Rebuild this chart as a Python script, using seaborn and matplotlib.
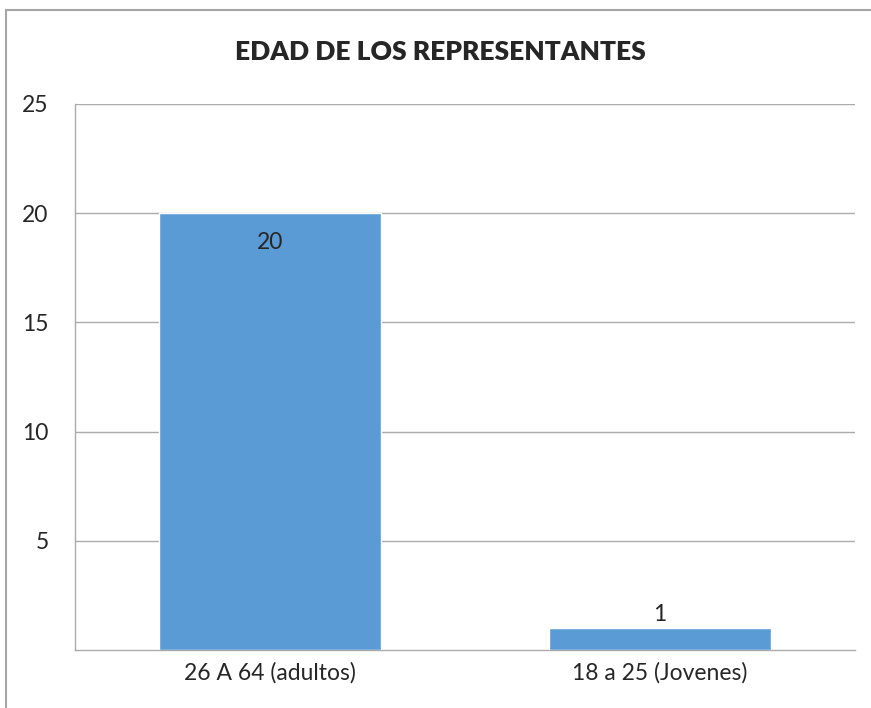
import matplotlib
matplotlib.use("Agg")
import matplotlib.pyplot as plt
from matplotlib.lines import Line2D
import seaborn as sns
import pandas as pd

# data
categories = ["26 A 64 (adultos)", "18 a 25 (Jovenes)"]
values = [20, 1]
yticks = [5, 10, 15, 20, 25]

sns.set_style("white")
plt.rcParams['font.family'] = ['Lato', 'DejaVu Sans']

grid_c = "#ABABAB"
bar_c = "#5B9BD5"

df = pd.DataFrame({"cat": categories, "val": values})

fig = plt.figure(figsize=(8.71, 7.08), dpi=100)
ax = fig.add_axes([75/871, 1-650/708, 780/871, 546/708])

sns.barplot(data=df, x="cat", y="val", color=bar_c, width=0.57, saturation=1, ax=ax, zorder=3)

ax.set_ylim(0, 25)
ax.set_yticks(yticks)
ax.set_xlabel("")
ax.set_ylabel("")
ax.grid(axis="y", color=grid_c, linewidth=1, zorder=0)
ax.tick_params(axis="y", length=0, pad=19, labelsize=16.5)
ax.tick_params(axis="x", length=0, pad=9, labelsize=16.5)
for s in ["top", "right"]:
    ax.spines[s].set_visible(False)
for s in ["left", "bottom"]:
    ax.spines[s].set_color(grid_c)
    ax.spines[s].set_linewidth(1)

# value labels
for i, v in enumerate(values):
    if v > 5:
        ax.annotate(str(v), (i, v), xytext=(0, -21), textcoords="offset points",
                    ha="center", va="center", fontsize=16.5)
    else:
        ax.annotate(str(v), (i, v), xytext=(0, 2), textcoords="offset points",
                    ha="center", va="bottom", fontsize=16.5)

fig.text(440/871, 1-52/708, "EDAD DE LOS REPRESENTANTES", ha="center", va="center",
         fontsize=19, fontweight="heavy")

# outer chart border (cropped at right/bottom)
fig.add_artist(Line2D([6/871, 6/871], [0, 1-10/708], color="#A6A6A6", lw=1.5))
fig.add_artist(Line2D([6/871, 1], [1-10/708, 1-10/708], color="#A6A6A6", lw=1.5))

fig.savefig("out.png", dpi=100)
